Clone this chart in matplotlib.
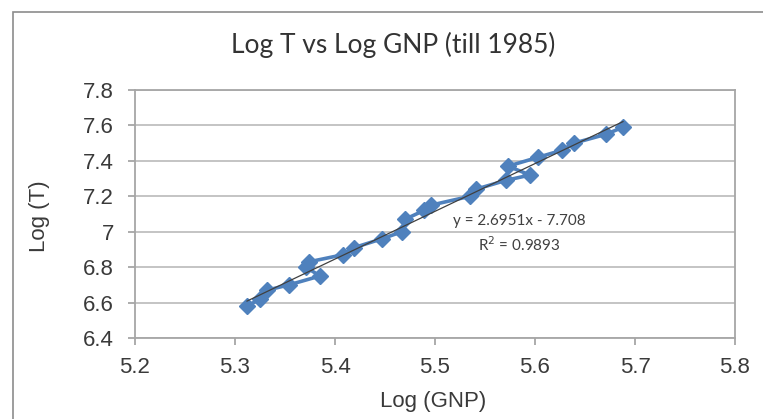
import matplotlib
matplotlib.use('agg')
import matplotlib.pyplot as plt
from matplotlib.patches import Rectangle
import numpy as np

# data, in time order (log values)
log_gnp = [5.312, 5.325, 5.332, 5.354, 5.385, 5.371, 5.374, 5.408, 5.419, 5.447,
           5.467, 5.470, 5.489, 5.496, 5.535, 5.541, 5.571, 5.595, 5.573, 5.603,
           5.627, 5.639, 5.671, 5.688]
log_t = [6.58, 6.62, 6.67, 6.70, 6.75, 6.80, 6.83, 6.87, 6.91, 6.96,
         7.00, 7.07, 7.12, 7.15, 7.20, 7.24, 7.29, 7.32, 7.37, 7.42,
         7.46, 7.50, 7.55, 7.59]
slope, intercept = 2.6951, -7.708
xticks = [5.2, 5.3, 5.4, 5.5, 5.6, 5.7, 5.8]
yticks = [6.4, 6.6, 6.8, 7.0, 7.2, 7.4, 7.6, 7.8]
ytick_labels = ['6.4', '6.6', '6.8', '7', '7.2', '7.4', '7.6', '7.8']

W, H = 763, 419
fig = plt.figure(figsize=(W / 100, H / 100), dpi=100)
fig.patch.set_facecolor('white')

# outer chart frame (right/bottom edges run off the picture)
fig.patches.append(Rectangle((13 / W, -0.05), 1.2, 1 - 12 / H + 0.05,
                             transform=fig.transFigure, fill=False,
                             edgecolor='#8c8c8c', lw=1.2))

ax = fig.add_axes([135 / W, (H - 338) / H, 600 / W, 248 / H])

blue = '#4F81BD'
ax.plot(log_gnp, log_t, color=blue, lw=2.6, marker='D', markersize=8.5,
        markerfacecolor=blue, markeredgecolor=blue, zorder=3)

xs = np.array([min(log_gnp), max(log_gnp)])
ax.plot(xs, slope * xs + intercept, color='#404040', lw=0.9, zorder=4)

ax.set_xlim(5.2, 5.8)
ax.set_ylim(6.4, 7.8)
ax.set_xticks(xticks)
ax.set_xticklabels([str(v) for v in xticks])
ax.set_yticks(yticks)
ax.set_yticklabels(ytick_labels)
ax.grid(axis='y', color='#c4c4c4', lw=1.4)
ax.set_axisbelow(True)

for s in ax.spines.values():
    s.set_color('#a6a6a6')
    s.set_linewidth(1.3)

tick_font = {'family': 'Liberation Sans', 'size': 16, 'color': '#3a3a3a'}
ax.tick_params(axis='both', length=5, width=1.3, color='#a6a6a6',
               direction='out')
ax.tick_params(axis='x', pad=9)
ax.tick_params(axis='y', pad=10)
for lab in ax.get_xticklabels() + ax.get_yticklabels():
    lab.set_fontfamily('Liberation Sans')
    lab.set_fontsize(16)
    lab.set_color('#3a3a3a')

fig.text(393 / W, 1 - 45 / H, 'Log T vs Log GNP (till 1985)', ha='center',
         va='center', fontsize=19, family='Lato', color='#333333')
fig.text(433 / W, 1 - 401 / H, 'Log (GNP)', ha='center', va='center',
         fontdict=tick_font)
fig.text(40 / W, 1 - 216 / H, 'Log (T)', ha='center', va='center',
         rotation=90, fontdict=tick_font)

ax.text(5.584, 6.985, 'y = 2.6951x - 7.708\nR$^2$ = 0.9893', ha='center',
        va='center', fontsize=11, family='Lato', color='#404040',
        linespacing=1.45)

fig.savefig('out.png', dpi=100, facecolor='white')
